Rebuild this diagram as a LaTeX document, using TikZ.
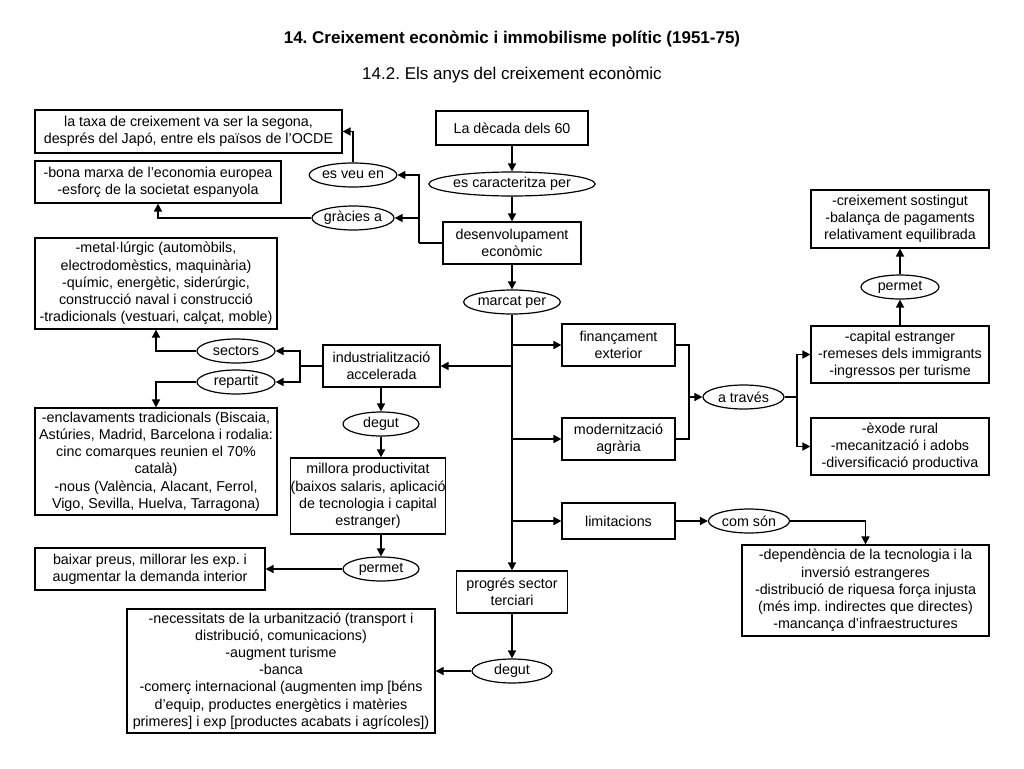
\documentclass[tikz,border=0pt]{standalone}
\usepackage{fontspec}
\setmainfont{Liberation Sans}
\usetikzlibrary{shapes.geometric,arrows.meta}
\frenchspacing
\newcommand\fsz{\fontsize{14.3}{17.2}\selectfont}
\tikzset{
  box/.style={draw, line width=1.2pt, align=center, inner sep=0pt, font=\fsz},
  oval/.style={draw, ellipse, line width=1.2pt, align=center, inner sep=0pt, font=\fsz, minimum height=24},
  conn/.style={line width=1.6pt},
  arr/.style={line width=1.6pt, -{Triangle[length=8pt,width=8pt]}},
}
\begin{document}
\begin{tikzpicture}[x=1pt,y=-1pt]
\useasboundingbox[fill=white] (0,0) rectangle (1024,768);
\node[font=\fontsize{17}{20}\selectfont\bfseries] (title) at (512,39) {14. Creixement econòmic i immobilisme polític (1951-75)};
\node[font=\fontsize{17}{20}\selectfont] (subtitle) at (512,75) {14.2. Els anys del creixement econòmic};

% left column boxes
\node[box, minimum width=307, minimum height=43] (taxa) at (188.5,131.5) {la taxa de creixement va ser la segona,\\després del Japó, entre els països de l’OCDE};
\node[box, minimum width=246, minimum height=42] (bona) at (158,182) {-bona marxa de l’economia europea\\-esforç de la societat espanyola};
\node[box, minimum width=242, minimum height=91] (metal) at (156,283.5) {-metal·lúrgic (automòbils,\\electrodomèstics, maquinària)\\-químic, energètic, siderúrgic,\\construcció naval i construcció\\-tradicionals (vestuari, calçat, moble)};
\node[box, minimum width=242, minimum height=107] (enclav) at (156,461.5) {-enclavaments tradicionals (Biscaia,\\Astúries, Madrid, Barcelona i rodalia:\\cinc comarques reunien el 70\%\\català)\\-nous (València, Alacant, Ferrol,\\Vigo, Sevilla, Huelva, Tarragona)};
\node[box, minimum width=230, minimum height=42] (baixar) at (150,569) {baixar preus, millorar les exp. i\\augmentar la demanda interior};
\node[box, minimum width=308, minimum height=124] (necess) at (281,671) {-necessitats de la urbanització (transport i\\distribució, comunicacions)\\-augment turisme\\-banca\\-comerç internacional (augmenten imp [béns\\d’equip, productes energètics i matèries\\primeres] i exp [productes acabats i agrícoles])};

% center
\node[box, minimum width=152, minimum height=34] (decada) at (512,128) {La dècada dels 60};
\node[oval, minimum width=153] (escar) at (512,184) {es caracteritza per};
\node[box, minimum width=138, minimum height=42] (desenv) at (512,243) {desenvolupament\\econòmic};
\node[oval, minimum width=81] (marcat) at (512,302) {marcat per};
\node[oval, minimum width=79] (esveu) at (353,175) {es veu en};
\node[oval, minimum width=79] (gracies) at (353,218) {gràcies a};

\node[box, minimum width=117, minimum height=42] (indus) at (381.5,366) {industrialització\\accelerada};
\node[oval, minimum width=78] (sectors) at (236,351) {sectors};
\node[oval, minimum width=78] (repartit) at (236,382) {repartit};
\node[oval, minimum width=76] (degut1) at (381,424) {degut};
\node[box, minimum width=146, minimum height=76] (millora) at (368,496) {millora productivitat\\(baixos salaris, aplicació\\de tecnologia i capital\\estranger)};
\node[oval, minimum width=76] (permet1) at (381,569) {permet};

\node[box, minimum width=111, minimum height=42] (progres) at (512,592) {progrés sector\\terciari};
\node[oval, minimum width=80] (degut2) at (512,671) {degut};

% right
\node[box, minimum width=113, minimum height=42] (finan) at (618.5,345) {finançament\\exterior};
\node[box, minimum width=113, minimum height=42] (modern) at (618.5,439) {modernització\\agrària};
\node[box, minimum width=113, minimum height=36] (limit) at (618.5,521) {limitacions};
\node[oval, minimum width=81] (atraves) at (743.5,397) {a través};
\node[oval, minimum width=81] (comson) at (749,521) {com són};

\node[box, minimum width=178, minimum height=58] (creix) at (900,219) {-creixement sostingut\\-balança de pagaments\\relativament equilibrada};
\node[oval, minimum width=78] (permet2) at (900,287) {permet};
\node[box, minimum width=178, minimum height=57] (capital) at (900,354.5) {-capital estranger\\-remeses dels immigrants\\-ingressos per turisme};
\node[box, minimum width=178, minimum height=57] (exode) at (900,446.5) {-èxode rural\\-mecanització i adobs\\-diversificació productiva};
\node[box, minimum width=247, minimum height=91] (depend) at (865.5,590.5) {-dependència de la tecnologia i la\\inversió estrangeres\\-distribució de riquesa força injusta\\(més imp. indirectes que directes)\\-mancança d’infraestructures};

% connectors
\draw[arr] (decada) -- (escar);
\draw[arr] (escar) -- (desenv);
\draw[arr] (desenv) -- (marcat);

\coordinate (jA) at (419,243);
\draw[conn] (desenv.west) -- (jA);
\draw[arr] (jA) |- (esveu.east);
\draw[arr] (jA |- gracies.east) -- (gracies.east);
\draw[arr] (esveu.north) |- (taxa.east);
\draw[arr] (gracies.west) -| (bona.south);

\draw[arr] (marcat.south) -- (progres.north);
\draw[arr] (marcat.south |- finan.west) -- (finan.west);
\draw[arr] (marcat.south |- modern.west) -- (modern.west);
\draw[arr] (marcat.south |- limit.west) -- (limit.west);
\draw[arr] (marcat.south |- indus.east) -- (indus.east);

\coordinate (jB) at (689,397);
\draw[conn] (finan.east) -| (jB);
\draw[conn] (modern.east) -| (jB);
\draw[arr] (jB) -- (atraves.west);
\coordinate (jC) at (797,397);
\draw[conn] (atraves.east) -- (jC);
\draw[arr] (jC) |- (capital.west);
\draw[arr] (jC) |- (exode.west);
\draw[arr] (capital.north) -- (permet2.south);
\draw[arr] (permet2.north) -- (creix.south);
\draw[arr] (limit.east) -- (comson.west);
\draw[arr] (comson.east) -| (depend.north);

\coordinate (jD) at (300,366);
\draw[conn] (indus.west) -- (jD);
\draw[arr] (jD) |- (sectors.east);
\draw[arr] (jD) |- (repartit.east);
\draw[arr] (sectors.west) -| (metal.south);
\draw[arr] (repartit.west) -| (enclav.north);
\draw[arr] (indus.south -| degut1.north) -- (degut1.north);
\draw[arr] (degut1.south) -- (degut1.south |- millora.north);
\draw[arr] (millora.south -| permet1.north) -- (permet1.north);
\draw[arr] (permet1.west) -- (baixar.east);
\draw[arr] (progres.south) -- (degut2.north);
\draw[arr] (degut2.west) -- (necess.east);
\end{tikzpicture}
\end{document}
